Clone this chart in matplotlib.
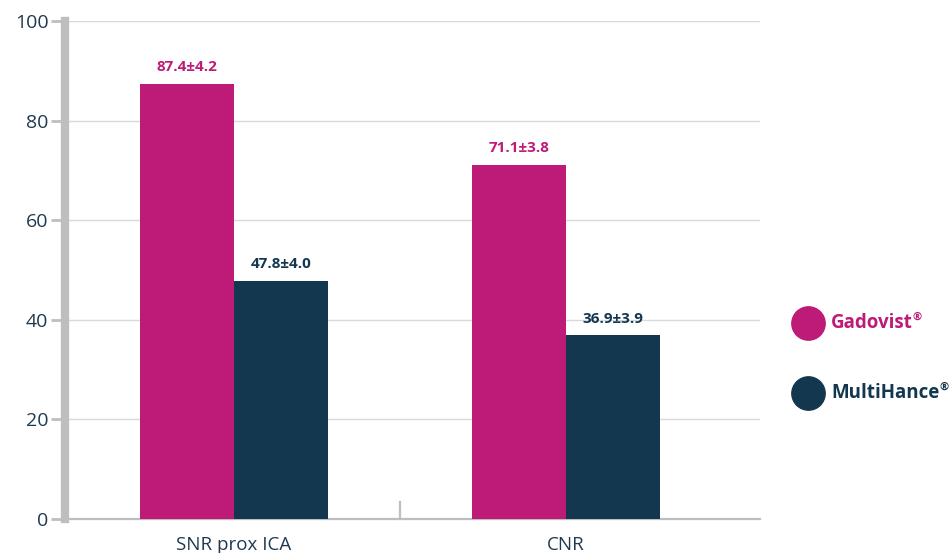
import numpy as np
import matplotlib.pyplot as plt
from matplotlib.lines import Line2D

categories = ['SNR prox ICA', 'CNR']
gadovist = [87.4, 71.1]
gadovist_sd = [4.2, 3.8]
multihance = [47.8, 36.9]
multihance_sd = [4.0, 3.9]
series_names = ['Gadovist', 'MultiHance']

pink = '#be1a78'
navy = '#12374f'
grey = '#bcbec0'
txt = '#1f3a50'

plt.rcParams['font.family'] = ['Open Sans', 'DejaVu Sans']

fig = plt.figure(figsize=(9.52, 5.53), dpi=100)
ax = fig.add_axes([65 / 952, 1 - 519 / 553, (760 - 65) / 952, (519 - 21) / 553])

x = np.arange(len(categories))
w = 0.283
b1 = ax.bar(x - w / 2, gadovist, w, color=pink, zorder=3)
b2 = ax.bar(x + w / 2, multihance, w, color=navy, zorder=3)

for bars, vals, sds, c in [(b1, gadovist, gadovist_sd, pink), (b2, multihance, multihance_sd, navy)]:
    for r, v, s in zip(bars, vals, sds):
        ax.annotate(f'{v:.1f}±{s:.1f}', (r.get_x() + r.get_width() / 2, v),
                    xytext=(0, 7), textcoords='offset points', ha='center', va='bottom',
                    fontsize=11, fontweight='bold', color=c)

ax.set_xlim(-0.509, 1.584)
ax.set_ylim(0, 100)
ax.set_yticks([0, 20, 40, 60, 80, 100])
ax.yaxis.grid(True, color='#d9d9d9', lw=1, zorder=0)
ax.set_axisbelow(True)

for s in ['top', 'right']:
    ax.spines[s].set_visible(False)
ax.spines['left'].set_color(grey)
ax.spines['left'].set_linewidth(6)
ax.spines['bottom'].set_color(grey)
ax.spines['bottom'].set_linewidth(1.6)

ax.tick_params(axis='y', length=10, width=2, color=grey, labelsize=14, labelcolor=txt, pad=2)
ax.set_xticks(x)
ax.set_xticklabels(categories)
ax.tick_params(axis='x', length=0, labelsize=13.5, labelcolor=txt, pad=12)
ax.plot([0.5, 0.5], [0, 3.4], color=grey, lw=1.6, clip_on=False, zorder=4)

# legend on the right
for i, (name, c) in enumerate(zip(series_names, [pink, navy])):
    yy = 1 - (323 + 70 * i) / 553
    fig.add_artist(Line2D([808 / 952], [yy], marker='o', markersize=24, color=c,
                          transform=fig.transFigure, linestyle='none'))
    t = fig.text(831 / 952, yy, name, color=c, fontsize=13.5, fontweight='bold',
                 va='center', ha='left')
    # small raised registered mark
    ax.annotate('®', xy=(1.0, 0.5), xycoords=t, ha='left', va='bottom',
                fontsize=8, fontweight='bold', color=c)

fig.savefig('out.png', dpi=100)
